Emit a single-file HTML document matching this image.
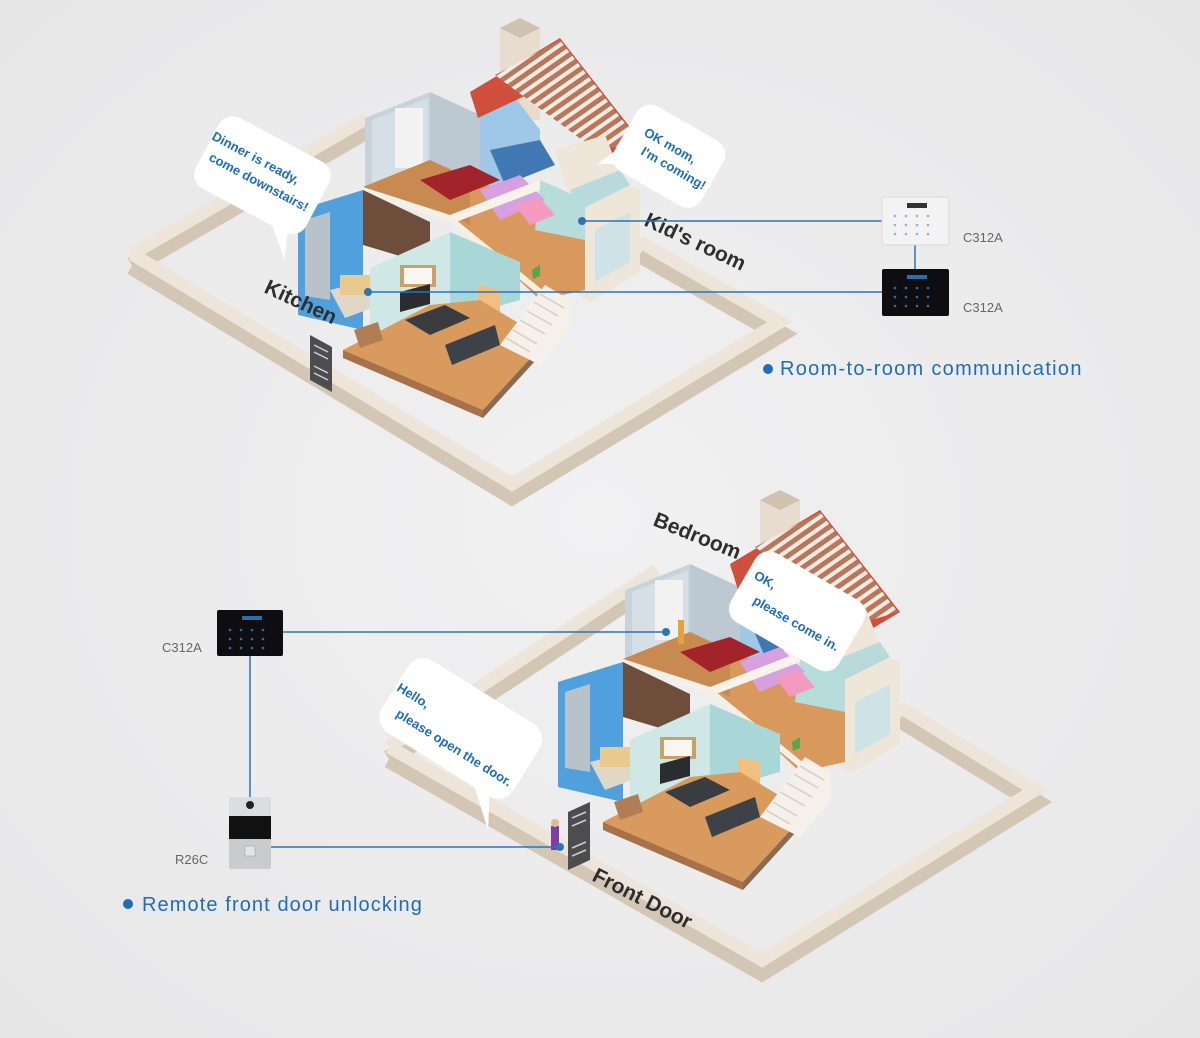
<!DOCTYPE html>
<html><head><meta charset="utf-8"><style>
html,body{margin:0;padding:0;width:1200px;height:1038px;overflow:hidden;background:#ececec}
svg{display:block}
</style></head><body>
<svg width="1200" height="1038" viewBox="0 0 1200 1038" xmlns="http://www.w3.org/2000/svg" font-family="Liberation Sans, sans-serif">
<defs>
<radialGradient id="bg" cx="0.5" cy="0.5" r="0.75"><stop offset="0" stop-color="#f1f1f2"/><stop offset="1" stop-color="#e6e6e7"/></radialGradient>
<pattern id="roof" width="9" height="9" patternUnits="userSpaceOnUse" patternTransform="rotate(55)"><rect width="9" height="9" fill="#f4ece4"/><rect width="5" height="9" fill="#b8765a"/></pattern>
<g id="house">
 <polygon points="500,28 520,18 540,28 540,120 500,120" fill="#e7dccd"/>
 <polygon points="500,28 520,18 540,28 520,38" fill="#cfc2b1"/>
 <polygon points="365,118 430,92 430,200 365,188" fill="#c7d2db"/>
 <polygon points="372,120 428,98 428,196 372,186" fill="#d7dfe6"/>
 <rect x="395" y="108" width="28" height="60" fill="#f2f2f2"/>
 <polygon points="430,92 480,115 480,190 430,200" fill="#bcc8d2"/>
 <polygon points="470,95 500,78 540,130 540,170 480,190 480,115" fill="#9fc7e8"/>
 <polygon points="490,150 540,140 555,165 505,185" fill="#3f78b3"/>
 <polygon points="470,92 560,38 640,140 610,158 548,85 478,118" fill="#cf4f3c"/>
 <polygon points="495,75 560,40 638,140 598,152" fill="url(#roof)"/>
 <polygon points="555,150 605,135 625,185 640,190 640,272 590,302 570,290 570,200" fill="#efe6da"/>
 <polygon points="595,230 630,212 630,262 595,282" fill="#cfe3e6"/>
 <polygon points="570,190 620,170 630,185 580,210" fill="#b9dada"/>
 <polygon points="363,187 430,160 520,200 585,210 585,290 540,300 450,215" fill="#d9985c"/>
 <polygon points="430,160 470,180 470,225 450,215 363,187" fill="#c98a52"/>
 <polygon points="540,180 585,200 585,240 535,230" fill="#b7dcdc"/>
 <polygon points="420,180 470,165 500,180 450,200" fill="#a3232a"/>
 <polygon points="480,190 520,175 545,200 500,220" fill="#d7a0e0"/>
 <polygon points="515,205 540,198 555,215 530,225" fill="#f49ac1"/>
 <polygon points="450,215 540,180 540,190 456,222" fill="#f7f2ea"/>
 <polygon points="363,187 450,215 545,292 545,300 450,222 363,194" fill="#f4efe7"/>
 <polygon points="298,210 363,190 363,330 298,315" fill="#4fa0dd"/>
 <polygon points="305,220 330,212 330,300 305,296" fill="#b8c2ca"/>
 <polygon points="363,190 430,222 430,265 363,245" fill="#6e4e3a"/>
 <polygon points="330,290 370,280 380,305 345,318" fill="#e0d7c6"/>
 <rect x="340" y="275" width="30" height="20" fill="#e9c98d"/>
 <polygon points="370,268 450,232 450,320 370,345" fill="#cfe8e6"/>
 <polygon points="450,232 520,262 520,300 450,320" fill="#a9d6d6"/>
 <rect x="400" y="265" width="36" height="22" fill="#c9a16b"/>
 <rect x="404" y="268" width="28" height="16" fill="#f8f6f0"/>
 <polygon points="400,292 430,284 430,304 400,312" fill="#2a2c30"/>
 <polygon points="478,285 500,290 500,320 478,315" fill="#f0c080"/>
 <polygon points="343,350 430,305 480,300 547,340 483,410" fill="#d99a5e"/>
 <polygon points="343,350 483,410 483,418 343,358" fill="#a8714a"/>
 <polygon points="483,410 547,340 547,348 483,418" fill="#8c6a50"/>
 <polygon points="354,330 378,322 383,340 360,348" fill="#b07d55"/>
 <polygon points="405,320 445,305 470,318 430,335" fill="#3a3d40"/>
 <polygon points="445,345 495,325 500,345 452,365" fill="#3c4248"/>
 <polygon points="500,345 545,285 570,300 570,330 540,365" fill="#f5f0ea"/>
 <g stroke="#d5cec4" stroke-width="1.5">
 <line x1="506" y1="338" x2="530" y2="352"/><line x1="513" y1="330" x2="537" y2="344"/><line x1="520" y1="320" x2="545" y2="334"/><line x1="527" y1="311" x2="552" y2="325"/><line x1="534" y1="302" x2="558" y2="316"/><line x1="540" y1="294" x2="564" y2="308"/>
 </g>
 <polygon points="532,270 540,265 540,276 533,279" fill="#5aa54b"/>
</g>
</defs>
<rect width="1200" height="1038" fill="url(#bg)"/>

<g fill="none" stroke-linejoin="miter">
 <polyline points="132,266 367,130" stroke="#d3c6b4" stroke-width="18"/>
 <polyline points="132,266 512,496 780,334 640,254" stroke="#d3c6b4" stroke-width="18"/>
 <polyline points="132,254 367,118" stroke="#eee5da" stroke-width="13"/>
 <polyline points="132,254 512,484 780,322 640,242" stroke="#eee5da" stroke-width="13"/>
</g>
<use href="#house"/>
<polygon points="310,335 332,347 332,392 310,380" fill="#4d4d50"/>
<g stroke="#cfcfcf" stroke-width="1.5"><line x1="314" y1="345" x2="328" y2="352"/><line x1="314" y1="352" x2="328" y2="359"/><line x1="314" y1="366" x2="328" y2="373"/><line x1="314" y1="373" x2="328" y2="380"/></g>

<g fill="none">
 <polyline points="389,759 657,582" stroke="#d3c6b4" stroke-width="18"/>
 <polyline points="389,759 762,972 1035,802 900,719" stroke="#d3c6b4" stroke-width="18"/>
 <polyline points="389,747 657,570" stroke="#eee5da" stroke-width="13"/>
 <polyline points="389,747 762,960 1035,790 900,707" stroke="#eee5da" stroke-width="13"/>
</g>
<use href="#house" transform="translate(260,472)"/>
<polygon points="568,812 590,802 590,860 568,870" fill="#4d4d50"/>
<g stroke="#cfcfcf" stroke-width="1.5"><line x1="572" y1="818" x2="586" y2="812"/><line x1="572" y1="826" x2="586" y2="820"/><line x1="572" y1="848" x2="586" y2="842"/><line x1="572" y1="856" x2="586" y2="850"/></g>
<rect x="551" y="826" width="8" height="24" fill="#7a3fa0"/><circle cx="555" cy="823" r="4" fill="#e6b890"/>
<rect x="678" y="620" width="6" height="24" fill="#e6a23a"/>

<g transform="rotate(28 262 175)">
 <rect x="200" y="135" width="125" height="80" rx="16" fill="#fff"/>
 <polygon points="290,210 310,210 322,240" fill="#fff"/>
</g>
<g fill="#1f6cb8" font-weight="bold" font-size="13">
 <text transform="translate(211,139) rotate(28)">Dinner is ready,</text>
 <text transform="translate(208,160) rotate(28)">come downstairs!</text>
</g>
<g transform="rotate(30 672 155)">
 <rect x="620" y="120" width="100" height="75" rx="16" fill="#fff"/>
 <polygon points="625,170 630,190 612,200" fill="#fff"/>
</g>
<g fill="#1f6cb8" font-weight="bold" font-size="13">
 <text transform="translate(643,135) rotate(30)">OK mom,</text>
 <text transform="translate(640,154) rotate(30)">I'm coming!</text>
</g>
<g transform="rotate(30 795 610)">
 <rect x="735" y="570" width="125" height="80" rx="16" fill="#fff"/>
</g>
<g fill="#1f6cb8" font-weight="bold" font-size="13">
 <text transform="translate(753,578) rotate(30)">OK,</text>
 <text transform="translate(752,603) rotate(30)">please come in.</text>
</g>
<g transform="rotate(32 460 725)">
 <rect x="385" y="685" width="155" height="85" rx="18" fill="#fff"/>
 <polygon points="500,765 520,765 540,800" fill="#fff"/>
</g>
<g fill="#1f6cb8" font-weight="bold" font-size="13">
 <text transform="translate(396,690) rotate(32)">Hello,</text>
 <text transform="translate(395,716) rotate(32)">please open the door.</text>
</g>

<g fill="#2e2e2e" font-weight="bold" font-size="21">
 <text transform="translate(643,225) rotate(25)">Kid's room</text>
 <text transform="translate(263,292) rotate(25)">Kitchen</text>
 <text transform="translate(652,525) rotate(22)">Bedroom</text>
 <text transform="translate(591,880) rotate(27)">Front Door</text>
</g>

<g stroke="#2c73b8" stroke-width="1.5" fill="none">
 <line x1="582" y1="221" x2="882" y2="221"/>
 <line x1="368" y1="292" x2="882" y2="292"/>
 <line x1="915" y1="244" x2="915" y2="270"/>
 <line x1="283" y1="632" x2="666" y2="632"/>
 <line x1="250" y1="656" x2="250" y2="797"/>
 <line x1="270" y1="847" x2="560" y2="847"/>
</g>
<g fill="#2c73b8"><circle cx="582" cy="221" r="4"/><circle cx="368" cy="292" r="4"/><circle cx="666" cy="632" r="4"/><circle cx="560" cy="847" r="4"/></g>

<rect x="882" y="197" width="67" height="48" rx="2" fill="#f3f3f3" stroke="#d8d8d8"/>
<rect x="907" y="203" width="20" height="5" fill="#333"/>
<g fill="#8ab4dd"><circle cx="895" cy="216" r="1.3"/><circle cx="906" cy="216" r="1.3"/><circle cx="917" cy="216" r="1.3"/><circle cx="928" cy="216" r="1.3"/><circle cx="895" cy="225" r="1.3"/><circle cx="906" cy="225" r="1.3"/><circle cx="917" cy="225" r="1.3"/><circle cx="928" cy="225" r="1.3"/><circle cx="895" cy="234" r="1.3"/><circle cx="906" cy="234" r="1.3"/><circle cx="917" cy="234" r="1.3"/><circle cx="928" cy="234" r="1.3"/></g>
<rect x="882" y="269" width="67" height="47" rx="2" fill="#0e0e10"/>
<rect x="907" y="275" width="20" height="4" fill="#2a6db0"/>
<g fill="#2a6db0"><circle cx="895" cy="288" r="1.3"/><circle cx="906" cy="288" r="1.3"/><circle cx="917" cy="288" r="1.3"/><circle cx="928" cy="288" r="1.3"/><circle cx="895" cy="297" r="1.3"/><circle cx="906" cy="297" r="1.3"/><circle cx="917" cy="297" r="1.3"/><circle cx="928" cy="297" r="1.3"/><circle cx="895" cy="306" r="1.3"/><circle cx="906" cy="306" r="1.3"/><circle cx="917" cy="306" r="1.3"/><circle cx="928" cy="306" r="1.3"/></g>
<rect x="217" y="610" width="66" height="46" rx="2" fill="#0e0e10"/>
<rect x="242" y="616" width="20" height="4" fill="#2a6db0"/>
<g fill="#2a6db0"><circle cx="230" cy="630" r="1.3"/><circle cx="241" cy="630" r="1.3"/><circle cx="252" cy="630" r="1.3"/><circle cx="263" cy="630" r="1.3"/><circle cx="230" cy="639" r="1.3"/><circle cx="241" cy="639" r="1.3"/><circle cx="252" cy="639" r="1.3"/><circle cx="263" cy="639" r="1.3"/><circle cx="230" cy="648" r="1.3"/><circle cx="241" cy="648" r="1.3"/><circle cx="252" cy="648" r="1.3"/><circle cx="263" cy="648" r="1.3"/></g>
<rect x="229" y="797" width="42" height="72" rx="2" fill="#c9cbce"/>
<rect x="229" y="797" width="42" height="19" fill="#dcdde0"/>
<circle cx="250" cy="805" r="4" fill="#222"/>
<rect x="229" y="816" width="42" height="23" fill="#111"/>
<rect x="245" y="846" width="10" height="10" fill="#e4e5e8" stroke="#aaa" stroke-width="0.7"/>

<g fill="#666" font-size="13">
 <text x="963" y="242">C312A</text>
 <text x="963" y="312">C312A</text>
 <text x="162" y="652">C312A</text>
 <text x="175" y="864">R26C</text>
</g>
<g fill="#1f6cb8" font-size="20">
 <circle cx="768" cy="369" r="5"/>
 <text x="780" y="375" letter-spacing="1.3">Room-to-room communication</text>
 <circle cx="128" cy="904" r="5"/>
 <text x="142" y="911" letter-spacing="1.1">Remote front door unlocking</text>
</g>
</svg>
</body></html>
